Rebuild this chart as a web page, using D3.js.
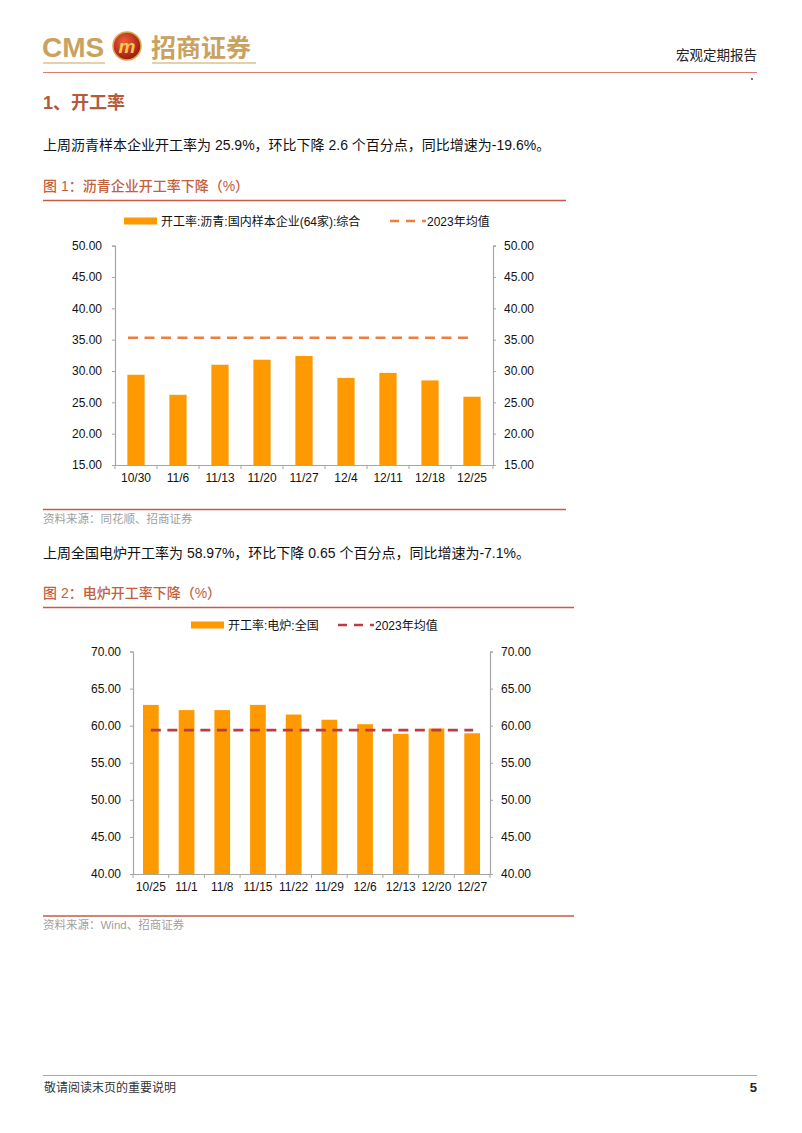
<!DOCTYPE html>
<html><head><meta charset="utf-8">
<script src="https://cdn.jsdelivr.net/npm/d3@7"></script>
<style>
body{margin:0;background:#fff}
svg{display:block}
text{font-family:"Liberation Sans","Noto Sans CJK SC",sans-serif}
</style></head><body>
<svg id="page" width="802" height="1133"></svg>
<script>
// ---------- data ----------
const cats1 = ["10/30","11/6","11/13","11/20","11/27","12/4","12/11","12/18","12/25"];
const vals1 = [29.4, 26.2, 31.0, 31.8, 32.4, 28.9, 29.7, 28.5, 25.9];
const avg1 = 35.3;
const ticks1 = [15, 20, 25, 30, 35, 40, 45, 50];
const legend1 = ["开工率:沥青:国内样本企业(64家):综合", "2023年均值"];

const cats2 = ["10/25","11/1","11/8","11/15","11/22","11/29","12/6","12/13","12/20","12/27"];
const vals2 = [62.8, 62.1, 62.1, 62.8, 61.5, 60.8, 60.2, 58.9, 59.62, 58.97];
const avg2 = 59.4;
const ticks2 = [40, 45, 50, 55, 60, 65, 70];
const legend2 = ["开工率:电炉:全国", "2023年均值"];

// ---------- page ----------
const svg = d3.select("#page");
svg.append("rect").attr("width",802).attr("height",1133).attr("fill","#fff");

const gold = "#C9A260";
// header
svg.append("text").attr("x",42).attr("y",57).attr("font-size",28).attr("font-weight","bold")
  .attr("fill",gold).text("CMS");
const defs = svg.append("defs");
const rg = defs.append("radialGradient").attr("id","lg").attr("cx","40%").attr("cy","35%").attr("r","65%");
rg.append("stop").attr("offset","0%").attr("stop-color","#F0603A");
rg.append("stop").attr("offset","100%").attr("stop-color","#9A1A10");
svg.append("circle").attr("cx",127).attr("cy",46).attr("r",14).attr("fill","url(#lg)")
  .attr("stroke","#D8A84E").attr("stroke-width",1.5);
svg.append("text").attr("x",127).attr("y",53).attr("text-anchor","middle").attr("font-size",19)
  .attr("font-weight","bold").attr("font-style","italic").attr("fill","#F5C850").text("m");
svg.append("text").attr("x",151).attr("y",57).attr("font-size",25).attr("font-weight","bold")
  .attr("font-family","Noto Sans CJK SC").attr("fill",gold).text("招商证券");
svg.append("line").attr("x1",43).attr("x2",105).attr("y1",63).attr("y2",63).attr("stroke",gold).attr("stroke-width",1.2);
svg.append("line").attr("x1",152).attr("x2",256).attr("y1",63).attr("y2",63).attr("stroke",gold).attr("stroke-width",1.2);
svg.append("line").attr("x1",43).attr("x2",757).attr("y1",72.5).attr("y2",72.5).attr("stroke","#DC7C6C").attr("stroke-width",1.2);
svg.append("text").attr("x",757).attr("y",60).attr("text-anchor","end").attr("font-size",13.5)
  .attr("font-family","Noto Sans CJK SC").attr("fill","#222").text("宏观定期报告");
svg.append("circle").attr("cx",752).attr("cy",79).attr("r",0.9).attr("fill","#333");

// section title
svg.append("text").attr("x",43).attr("y",109).attr("font-size",18).attr("fill","#B65A3E")
  .attr("font-weight","bold").attr("font-family","Noto Sans CJK SC").text("1、开工率");

function para(y, t){
  svg.append("text").attr("x",43).attr("y",y).attr("font-size",14).attr("fill","#111").text(t);
}
function figTitle(y, t, x2){
  svg.append("text").attr("x",43).attr("y",y).attr("font-size",14).attr("fill","#C3603E")
    .attr("font-weight",500).attr("font-family","Noto Sans CJK SC").text(t);
  svg.append("line").attr("x1",43).attr("x2",x2).attr("y1",y+9.5).attr("y2",y+9.5)
    .attr("stroke","#C95A48").attr("stroke-width",1.3);
}
function source(y, t, x2){
  svg.append("line").attr("x1",43).attr("x2",x2).attr("y1",y).attr("y2",y)
    .attr("stroke","#C95A48").attr("stroke-width",1.3);
  svg.append("text").attr("x",43).attr("y",y+13).attr("font-size",11.5).attr("fill","#A0A0A0").text(t);
}

para(150, "上周沥青样本企业开工率为 25.9%，环比下降 2.6 个百分点，同比增速为-19.6%。");
figTitle(191, "图 1：沥青企业开工率下降（%）", 566);
source(509.5, "资料来源：同花顺、招商证券", 566);

para(558, "上周全国电炉开工率为 58.97%，环比下降 0.65 个百分点，同比增速为-7.1%。");
figTitle(598, "图 2：电炉开工率下降（%）", 574);
source(916, "资料来源：Wind、招商证券", 574);

// footer
svg.append("line").attr("x1",43).attr("x2",757).attr("y1",1075.5).attr("y2",1075.5).attr("stroke","#A8A8A8").attr("stroke-width",1);
svg.append("text").attr("x",44).attr("y",1092).attr("font-size",12).attr("fill","#333").text("敬请阅读末页的重要说明");
svg.append("text").attr("x",757).attr("y",1092).attr("text-anchor","end").attr("font-size",13).attr("font-weight","bold").attr("fill","#222").text("5");

// ---------- charts ----------
const barColor = "#FF9900";
const axisColor = "#A6A6A6";

function drawChart(o){
  const g = svg.append("g");
  const x = d3.scaleBand().domain(o.cats).range([o.left, o.right]).paddingInner(0).paddingOuter(0);
  const y = d3.scaleLinear().domain(o.domain).range([o.bottom, o.top]);
  const fmt = d3.format(".2f");
  const bw = x.bandwidth()*o.barRatio;

  // bars
  g.selectAll("rect.bar").data(o.vals).join("rect").attr("class","bar")
    .attr("x",(d,i)=>x(o.cats[i]) + (x.bandwidth()-bw)/2)
    .attr("width",bw)
    .attr("y",d=>y(d))
    .attr("height",d=>y(o.domain[0])-y(d))
    .attr("fill",barColor);

  // left axis
  const la = g.append("g").attr("transform",`translate(${o.left},0)`)
    .call(d3.axisLeft(y).tickValues(o.ticks).tickSize(3).tickPadding(o.lpad).tickFormat(fmt));
  // right axis
  const ra = g.append("g").attr("transform",`translate(${o.right},0)`)
    .call(d3.axisRight(y).tickValues(o.ticks).tickSize(3).tickPadding(o.rpad).tickFormat(fmt));
  // bottom axis
  const ba = g.append("g").attr("transform",`translate(0,${o.bottom})`)
    .call(d3.axisBottom(x).tickSize(0).tickPadding(8));
  [la,ra,ba].forEach(a=>{
    a.select(".domain").attr("stroke",axisColor).attr("stroke-width",1.2);
    a.selectAll(".tick line").attr("stroke",axisColor);
    a.selectAll("text").attr("font-size",12).attr("fill","#111")
      .attr("font-family","Liberation Sans");
  });
  // category boundary ticks
  const bounds = o.cats.map(c=>x(c)).concat([x.range()[1]]);
  g.selectAll("line.bt").data(bounds).join("line").attr("class","bt")
    .attr("x1",d=>d).attr("x2",d=>d).attr("y1",o.bottom).attr("y2",o.bottom+4)
    .attr("stroke",axisColor);

  // average dashed line
  const first = o.cats[0], last = o.cats[o.cats.length-1];
  const lx1 = x(first) + x.bandwidth()/2 - o.lineLead;
  const lx2 = x(last) + x.bandwidth()/2 + 1;
  g.append("line").attr("x1",lx1).attr("x2",lx2).attr("y1",y(o.avg)).attr("y2",y(o.avg))
    .attr("stroke",o.lineColor).attr("stroke-width",2.6).attr("stroke-dasharray","10,6.5");

  // legend
  const L = o.legend;
  g.append("rect").attr("x",L.sx).attr("y",L.y-3.5).attr("width",33).attr("height",7).attr("fill",barColor);
  g.append("text").attr("x",L.sx+37).attr("y",L.y+4.5).attr("font-size",12).attr("fill","#111").text(o.legendText[0]);
  g.append("line").attr("x1",L.dx).attr("x2",L.dx+36).attr("y1",L.y).attr("y2",L.y)
    .attr("stroke",o.lineColor).attr("stroke-width",2.6).attr("stroke-dasharray","9,7");
  g.append("text").attr("x",L.dx+37).attr("y",L.y+4.5).attr("font-size",12).attr("fill","#111").text(o.legendText[1]);
}

drawChart({
  cats:cats1, vals:vals1, avg:avg1, ticks:ticks1, domain:[15,50],
  left:115, right:493, top:245.7, bottom:465,
  barRatio:0.41, lineColor:"#E9803E", lineLead:8,
  lpad:10, rpad:8,
  legend:{sx:124, dx:390, y:221}, legendText:legend1
});

drawChart({
  cats:cats2, vals:vals2, avg:avg2, ticks:ticks2, domain:[40,70],
  left:133, right:490, top:651.5, bottom:874,
  barRatio:0.44, lineColor:"#C03A44", lineLead:0,
  lpad:9, rpad:8,
  legend:{sx:191, dx:338, y:625}, legendText:legend2
});
</script>
</body></html>
